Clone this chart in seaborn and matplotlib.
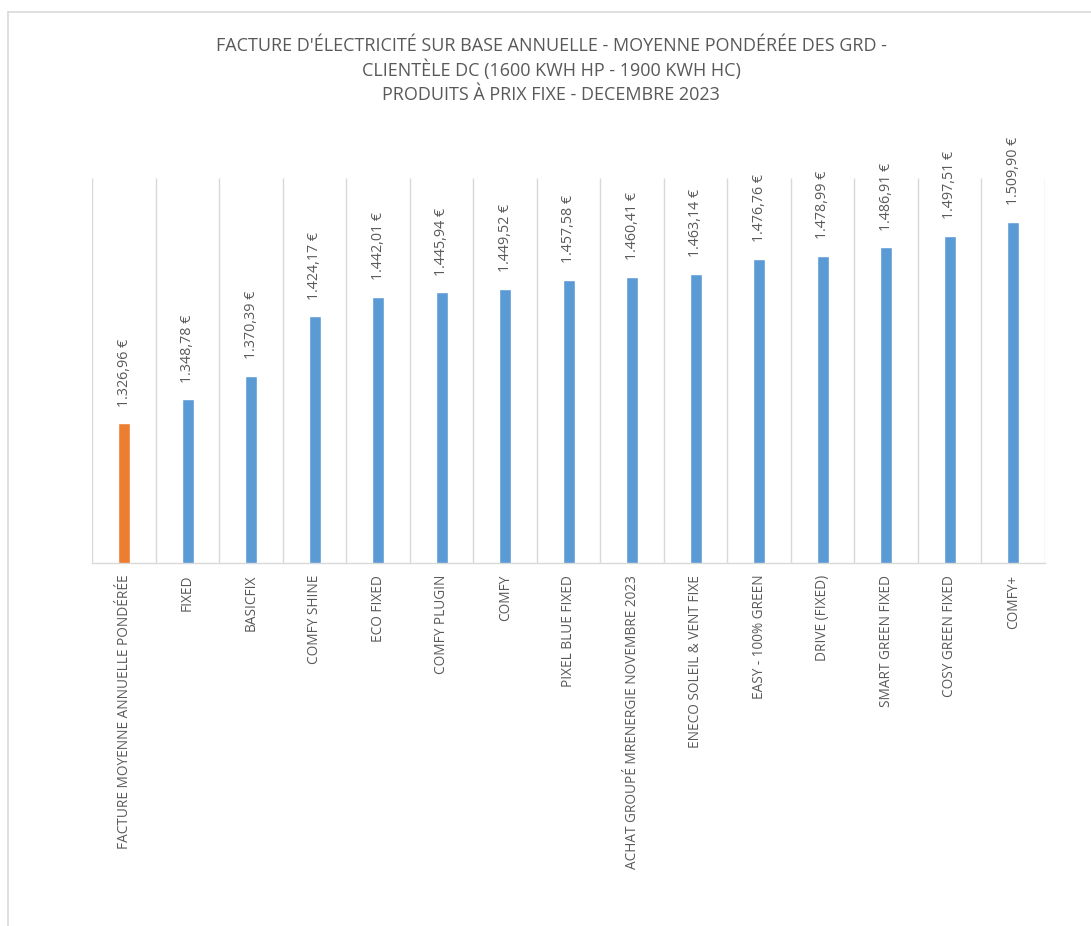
import numpy as np
import pandas as pd
import matplotlib
matplotlib.use("Agg")
import matplotlib.pyplot as plt
from matplotlib.lines import Line2D
import seaborn as sns

categories = [
    "FACTURE MOYENNE ANNUELLE PONDÉRÉE", "FIXED", "BASICFIX", "COMFY SHINE",
    "ECO FIXED", "COMFY PLUGIN", "COMFY", "PIXEL BLUE FIXED",
    "ACHAT GROUPÉ MRENERGIE NOVEMBRE 2023", "ENECO SOLEIL & VENT FIXE",
    "EASY - 100% GREEN", "DRIVE (FIXED)", "SMART GREEN FIXED",
    "COSY GREEN FIXED", "COMFY+",
]
values = [1326.96, 1348.78, 1370.39, 1424.17, 1442.01, 1445.94, 1449.52,
          1457.58, 1460.41, 1463.14, 1476.76, 1478.99, 1486.91, 1497.51,
          1509.90]
value_labels = ["1.326,96 €", "1.348,78 €", "1.370,39 €", "1.424,17 €",
                "1.442,01 €", "1.445,94 €", "1.449,52 €", "1.457,58 €",
                "1.460,41 €", "1.463,14 €", "1.476,76 €", "1.478,99 €",
                "1.486,91 €", "1.497,51 €", "1.509,90 €"]
title_lines = [
    "FACTURE D'ÉLECTRICITÉ SUR BASE ANNUELLE - MOYENNE PONDÉRÉE DES GRD -",
    "CLIENTÈLE DC (1600 KWH HP - 1900 KWH HC)",
    "PRODUITS À PRIX FIXE - DECEMBRE 2023",
]
ORANGE = "#ED7D31"
BLUE = "#5B9BD5"
colors = [ORANGE] + [BLUE] * (len(categories) - 1)

sns.set_theme(style="white")
plt.rcParams["font.family"] = ["Open Sans", "DejaVu Sans"]
TXT = "#595959"

W, H = 1091, 926
fig = plt.figure(figsize=(W / 100, H / 100), dpi=100)
ax = fig.add_axes([92.3 / W, 1 - 563 / H, (1045 - 92.3) / W, (563 - 178) / H])

df = pd.DataFrame({"cat": categories, "val": values})
sns.barplot(data=df, x="cat", y="val", hue="cat", palette=colors,
            width=0.19, legend=False, ax=ax, saturation=1, zorder=2)

ax.set_ylim(1200, 1550)
ax.set_xlim(-0.5, len(categories) - 0.5)
ax.vlines(np.arange(-0.5, len(categories)), 1200, 1550, color="#d9d9d9",
          lw=1, zorder=0)

for s in ["left", "right", "top"]:
    ax.spines[s].set_visible(False)
ax.spines["bottom"].set_color("#d9d9d9")
ax.spines["bottom"].set_linewidth(1)
ax.set_yticks([])
ax.set_xlabel("")
ax.set_ylabel("")
ax.tick_params(axis="x", length=0, pad=8.5)
ax.set_xticks(range(len(categories)))
ax.set_xticklabels(categories, rotation=90, fontsize=9.8, color=TXT)

for i, (v, lab) in enumerate(zip(values, value_labels)):
    ax.annotate(lab, (i, v), xytext=(0, 12), textcoords="offset points",
                rotation=90, ha="center", va="bottom", fontsize=10.3,
                color=TXT)

for yb, line in zip([51, 76, 100], title_lines):
    fig.text(551 / W, 1 - yb / H, line, ha="center", va="baseline",
             fontsize=13, color=TXT)

# chart frame (partially visible)
fig.add_artist(Line2D([8 / W, 1], [1 - 11.5 / H] * 2, color="#d9d9d9",
                      lw=1.2, transform=fig.transFigure))
fig.add_artist(Line2D([8 / W] * 2, [0, 1 - 11.5 / H], color="#d9d9d9",
                      lw=1.2, transform=fig.transFigure))

fig.savefig("out.png", dpi=100, facecolor="white")
